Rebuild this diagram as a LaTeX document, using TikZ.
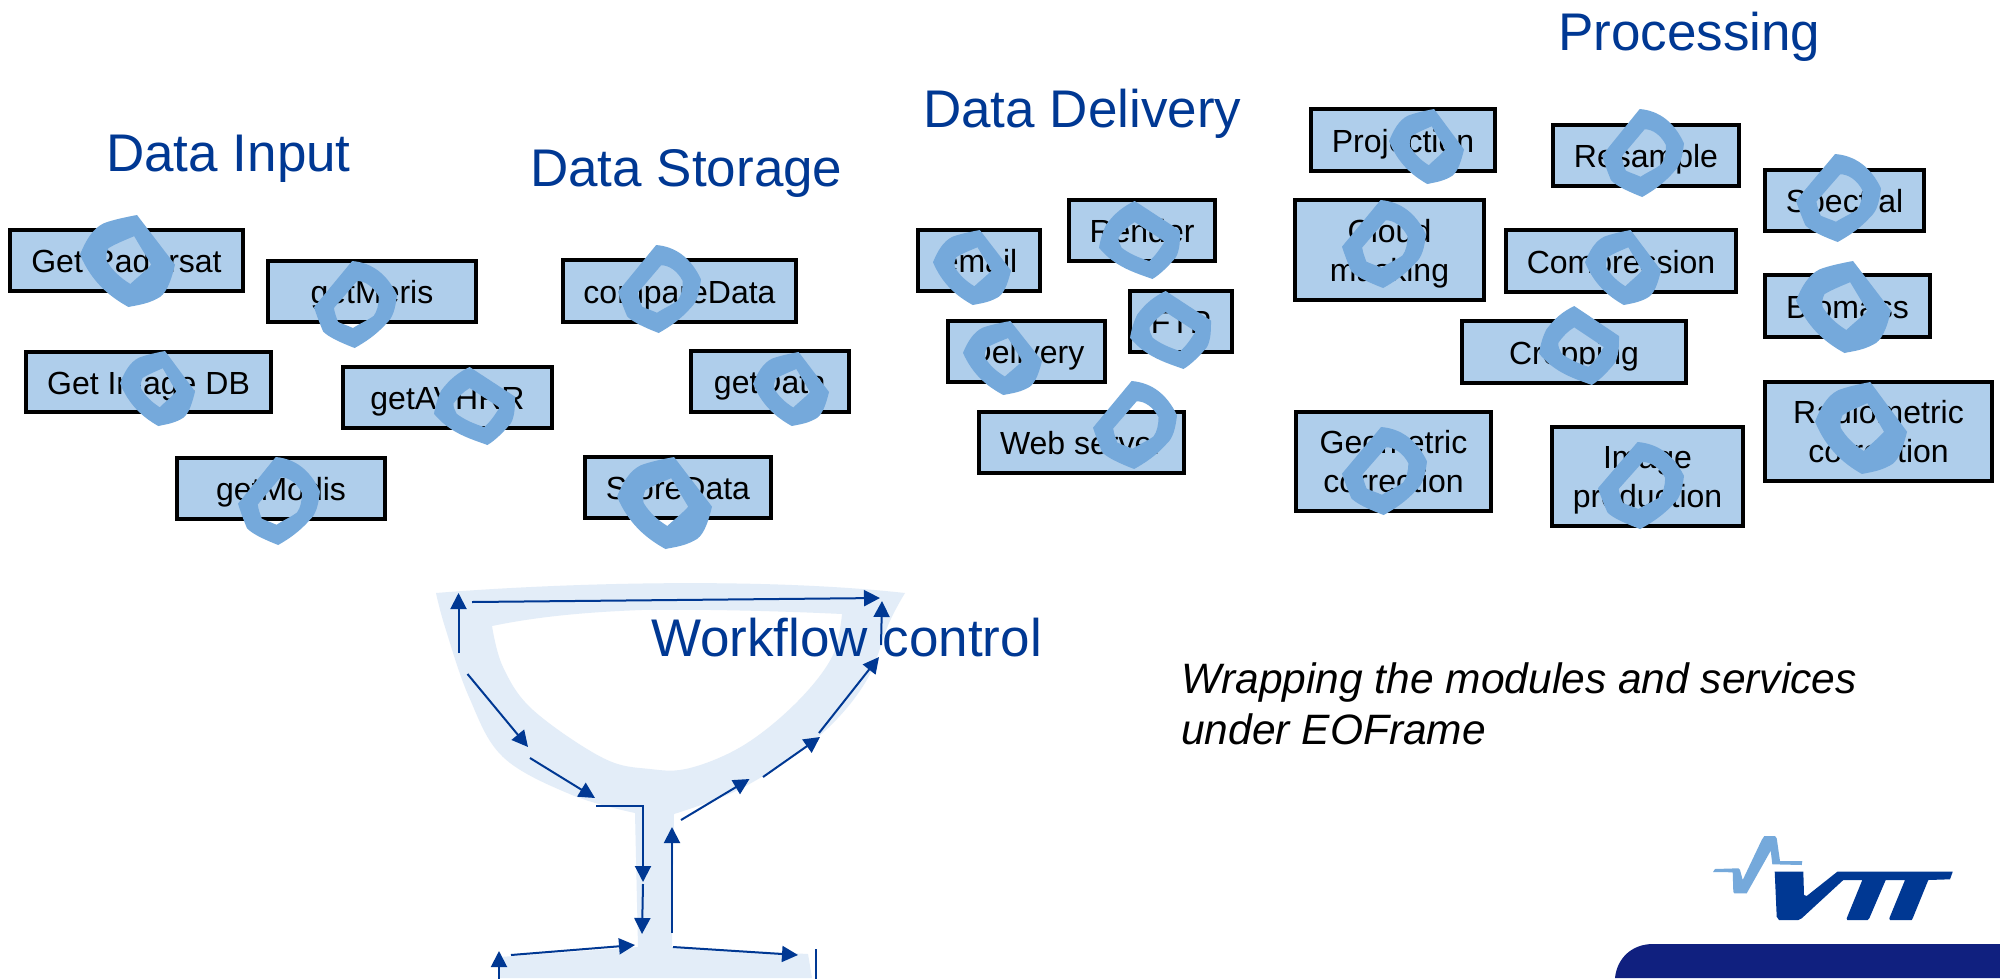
\documentclass[tikz,border=0pt]{standalone}
\usepackage{fontspec}
\setmainfont{Liberation Sans}
\definecolor{vttblue}{HTML}{003893}
\definecolor{ringblue}{HTML}{75A9DB}
\definecolor{boxblue}{HTML}{AFCEEB}
\definecolor{gobletblue}{HTML}{E3EDF8}
\definecolor{barblue}{HTML}{10207F}
\tikzset{
  modbox/.style={draw=black,fill=boxblue,line width=4pt,inner sep=0pt,font=\fontsize{32}{39}\selectfont,text=black},
  titletext/.style={anchor=base west,inner sep=0pt,text=vttblue,font=\fontsize{53}{60}\selectfont},
  notetext/.style={anchor=base west,inner sep=0pt,text=black,font=\fontsize{42.5}{50}\selectfont\itshape},
  flow/.style={draw=vttblue,line width=2pt,-{Triangle[length=16pt,width=16pt]}},
  flowplain/.style={draw=vttblue,line width=2pt},
  ringfill/.style={fill=ringblue,even odd rule}
}
\usetikzlibrary{arrows.meta}
\newcommand{\lone}[1]{\raisebox{-12pt}[0pt][0pt]{#1}}
\newcommand{\ltwo}[2]{\raisebox{8pt}[0pt][0pt]{\begin{tabular}[t]{@{}c@{}}#1\\#2\end{tabular}}}
% x, y, w, h of the ring's bounding box
\newcommand{\ringA}[4]{\begin{scope}[shift={(#1,#2)},x={(#3pt,0pt)},y={(0pt,-#4pt)}]
\path[ringfill] (0.6,0) -- (1,0.54) .. controls (0.95,0.75) and (0.9,0.87) .. (0.81,0.91) .. controls (0.7,0.97) and (0.6,0.98) .. (0.51,1) .. controls (0.3,0.88) and (0.12,0.72) .. (0,0.43) .. controls (0.06,0.28) and (0.13,0.15) .. (0.25,0.09) .. controls (0.35,0.05) and (0.5,0.02) .. (0.6,0) -- cycle
(0.57,0.23) -- (0.75,0.54) .. controls (0.68,0.62) and (0.6,0.68) .. (0.53,0.75) .. controls (0.42,0.68) and (0.34,0.6) .. (0.28,0.5) .. controls (0.27,0.45) and (0.28,0.4) .. (0.3,0.36) .. controls (0.38,0.31) and (0.48,0.27) .. (0.57,0.23) -- cycle;
\end{scope}}
\newcommand{\ringB}[4]{\begin{scope}[shift={(#1,#2)},x={(#3pt,0pt)},y={(0pt,-#4pt)}]
\path[ringfill] (0.46,0) .. controls (0.7,0.02) and (0.88,0.15) .. (1,0.39) .. controls (0.98,0.55) and (0.95,0.65) .. (0.88,0.71) .. controls (0.75,0.85) and (0.62,0.93) .. (0.49,1) .. controls (0.3,0.93) and (0.17,0.87) .. (0.11,0.81) .. controls (0.07,0.72) and (0.03,0.62) .. (0,0.53) -- cycle
(0.52,0.23) .. controls (0.62,0.23) and (0.72,0.3) .. (0.78,0.41) .. controls (0.78,0.5) and (0.76,0.58) .. (0.72,0.63) .. controls (0.65,0.68) and (0.55,0.72) .. (0.47,0.77) .. controls (0.4,0.74) and (0.33,0.72) .. (0.29,0.7) .. controls (0.27,0.65) and (0.25,0.6) .. (0.24,0.54) -- cycle;
\end{scope}}
\newcommand{\ringC}[4]{\begin{scope}[shift={(#1,#2)},x={(#3pt,0pt)},y={(0pt,-#4pt)}]
\path[ringfill] (0.44,0) -- (1,0.38) .. controls (1,0.5) and (1,0.62) .. (0.95,0.72) .. controls (0.87,0.82) and (0.77,0.93) .. (0.66,1) .. controls (0.45,0.92) and (0.2,0.85) .. (0,0.6) .. controls (0.02,0.48) and (0.05,0.38) .. (0.09,0.3) .. controls (0.2,0.15) and (0.3,0.07) .. (0.44,0) -- cycle
(0.44,0.27) -- (0.81,0.52) .. controls (0.76,0.6) and (0.7,0.7) .. (0.62,0.77) .. controls (0.5,0.73) and (0.38,0.68) .. (0.28,0.6) .. controls (0.26,0.56) and (0.24,0.52) .. (0.24,0.47) .. controls (0.3,0.38) and (0.36,0.32) .. (0.44,0.27) -- cycle;
\end{scope}}
\begin{document}
\begin{tikzpicture}[x=1pt,y=-1pt]
\useasboundingbox (0,0) rectangle (2000,978);
\clip (0,0) rectangle (2000,978);
\fill[white] (0,0) rectangle (2000,978);

% goblet
\path[fill=gobletblue,even odd rule]
 (436,593) .. controls (560,583) and (760,577) .. (905,593)
 -- plot[smooth,tension=0.6] coordinates {(905,593) (889,623) (865,683) (818,737) (744,787) (674,814)}
 -- (672,947) -- (808,954) -- (812,978) -- (500,978) -- (500,957) -- (638,947) -- (635,813)
 -- plot[smooth,tension=0.6] coordinates {(635,813) (572,795) (503,757) (469,697) (445,627) (436,593)} -- cycle
 plot[smooth,tension=0.6] coordinates {(492,626) (503,667) (533,710) (603,758) (650,769) (690,768) (744,745) (796,703) (832,657) (842,614)}
 .. controls (780,611) and (700,609) .. (641,610) .. controls (590,612) and (540,616) .. (492,626) -- cycle;

% workflow arrows
\draw[flow] (458.5,653) -- (458.5,593);
\draw[flow] (472,602) -- (880,598);
\draw[flow] (881,645) -- (882,601);
\draw[flow] (467.5,674) -- (528,747);
\draw[flow] (530,758) -- (595,798);
\draw[flow] (596,806) -- (643,806) -- (643,882);
\draw[flow] (643,884) -- (642,934);
\draw[flow] (511,955) -- (635,945);
\draw[flow] (499,985) -- (499,951);
\draw[flow] (672,933) -- (672,827);
\draw[flow] (681,820) -- (749.5,779);
\draw[flow] (763,777) -- (820,737);
\draw[flow] (819,733) -- (879,657);
\draw[flow] (673,947) -- (798,955);
\draw[flowplain] (816,949) -- (816,985);

% titles
\node[titletext] (tInput) at (106,171) {Data Input};
\node[titletext] (tStorage) at (530,186) {Data Storage};
\node[titletext] (tDelivery) at (923,127) {Data Delivery};
\node[titletext] (tProcessing) at (1558,50) {Processing};
\node[titletext] (tWorkflow) at (651,656) {Workflow control};
\node[notetext] (note1) at (1181,693) {Wrapping the modules and services};
\node[notetext] (note2) at (1181,744) {under EOFrame};

% module boxes
\node[modbox,minimum width=233pt,minimum height=61pt] (radarsat) at (126.5,260.5) {\lone{Get Radarsat}};
\node[modbox,minimum width=208pt,minimum height=61pt] (meris) at (372,291.5) {\lone{getMeris}};
\node[modbox,minimum width=245pt,minimum height=60pt] (imagedb) at (148.5,382) {\lone{Get Image DB}};
\node[modbox,minimum width=209pt,minimum height=61pt] (avhrr) at (447.5,397.5) {\lone{getAVHRR}};
\node[modbox,minimum width=208pt,minimum height=61pt] (modis) at (281,488.5) {\lone{getModis}};
\node[modbox,minimum width=233pt,minimum height=62pt] (compare) at (679.5,291) {\lone{compareData}};
\node[modbox,minimum width=158pt,minimum height=61pt] (getdata) at (770,381.5) {\lone{getData}};
\node[modbox,minimum width=186pt,minimum height=61pt] (store) at (678,487.5) {\lone{StoreData}};
\node[modbox,minimum width=122pt,minimum height=61pt] (email) at (979,260.5) {\lone{email}};
\node[modbox,minimum width=146pt,minimum height=61pt] (render) at (1142,230.5) {\lone{Render}};
\node[modbox,minimum width=102pt,minimum height=61pt] (ftp) at (1181,321.5) {\lone{FTP}};
\node[modbox,minimum width=157pt,minimum height=61pt] (delivery) at (1026.5,351.5) {\lone{Delivery}};
\node[modbox,minimum width=205pt,minimum height=61pt] (web) at (1081.5,442.5) {\lone{Web server}};
\node[modbox,minimum width=184pt,minimum height=62pt] (projection) at (1403,140) {\lone{Projection}};
\node[modbox,minimum width=186pt,minimum height=61pt] (resample) at (1646,155.5) {\lone{Resample}};
\node[modbox,minimum width=189pt,minimum height=100pt] (cloud) at (1389.5,250) {\ltwo{Cloud}{masking}};
\node[modbox,minimum width=230pt,minimum height=62pt] (compression) at (1621,261) {\lone{Compression}};
\node[modbox,minimum width=224pt,minimum height=62pt] (cropping) at (1574,352) {\lone{Cropping}};
\node[modbox,minimum width=159pt,minimum height=61pt] (spectral) at (1844.5,200.5) {\lone{Spectral}};
\node[modbox,minimum width=165pt,minimum height=62pt] (biomass) at (1847.5,306) {\lone{Biomass}};
\node[modbox,minimum width=227pt,minimum height=99pt] (radiometric) at (1878.5,431.5) {\ltwo{Radiometric}{correction}};
\node[modbox,minimum width=195pt,minimum height=99pt] (geometric) at (1393.5,461.5) {\ltwo{Geometric}{correction}};
\node[modbox,minimum width=191pt,minimum height=99pt] (imageprod) at (1647.5,476.5) {\ltwo{Image}{production}};

% rings over the boxes
\ringA{80}{215}{95}{92}
\ringB{314}{261}{83}{87}
\ringA{120}{351}{75}{75}
\ringC{434}{367}{81}{78}
\ringB{238}{457}{82}{88}
\ringB{618}{245}{83}{88}
\ringA{753}{352}{76}{74}
\ringA{617}{457}{95}{92}
\ringA{933}{230}{78}{75}
\ringC{1099}{201}{81}{78}
\ringC{1130}{291}{81}{78}
\ringA{963}{321}{79}{74}
\ringB{1093}{381}{84}{88}
\ringA{1389}{109}{75}{75}
\ringB{1602}{109}{82}{88}
\ringB{1342}{200}{84}{88}
\ringA{1585}{230}{76}{75}
\ringC{1539}{306}{80}{79}
\ringB{1796}{154}{85}{88}
\ringA{1796}{261}{95}{92}
\ringA{1815}{382}{92}{92}
\ringB{1342}{427}{85}{88}
\ringB{1598}{442}{86}{87}

% logo
\path[fill=ringblue] (1713,872) -- (1732.7,872.3) -- (1733.3,891.7) -- (1734.3,893.3) -- (1746.7,893.3) -- (1770.7,850.7) -- (1772.3,864.3) -- (1801.7,865) -- (1802.3,861) -- (1780,861) -- (1776.7,838.3) -- (1775,836) -- (1764.3,836) -- (1761.7,840) -- (1742.7,880) -- (1740,870) -- (1738.3,868.3) -- (1715,869) -- cycle;
\path[fill=vttblue] (1774.7,871.7) -- (1803.3,871.7) -- (1804,895) -- (1806.7,896) -- (1837.3,871.7) -- (1952.7,871.7) -- (1950,879.3) -- (1928.3,880) -- (1912.7,918.3) -- (1911.7,920) -- (1890,920) -- (1889.3,918.3) -- (1905,880) -- (1885.7,880) -- (1869.3,918.3) -- (1867.7,920) -- (1847.3,920) -- (1846.7,918.3) -- (1862.3,880) -- (1843.3,880) -- (1801.7,918.3) -- (1798.3,920) -- (1779,920) -- (1776.7,916.7) -- cycle;
\path[fill=barblue] (1615,978) .. controls (1617,958) and (1632,944) .. (1653,944) -- (2000,944) -- (2000,978) -- cycle;
\end{tikzpicture}
\end{document}
